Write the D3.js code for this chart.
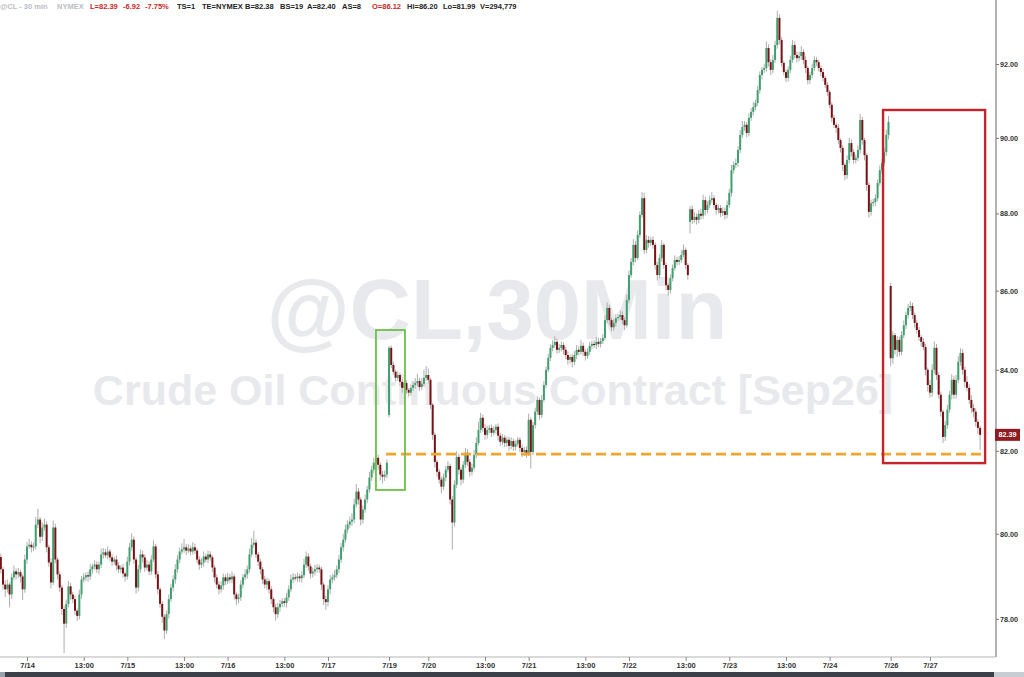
<!DOCTYPE html>
<html><head><meta charset="utf-8">
<script src="https://cdn.jsdelivr.net/npm/d3@7"></script>
<style>body{margin:0;background:#fff;overflow:hidden}svg text{font-family:"Liberation Sans",Arial,sans-serif}</style>
</head><body><svg id="c" width="1024" height="677"></svg>
<script>
// ---- data (30-min bars, CL continuous) ----
const closes = [
79.16,78.80,78.69,78.80,78.57,78.97,79.11,79.04,79.09,78.99,
78.69,79.39,79.70,79.74,79.68,79.70,80.22,80.34,79.93,80.15,
80.22,79.68,79.32,78.85,80.15,79.39,79.04,78.73,78.23,77.89,
78.35,78.76,78.57,78.46,78.19,78.07,78.57,78.92,78.97,79.02,
78.99,79.16,79.23,79.27,79.16,79.27,79.51,79.56,79.49,79.58,
79.44,79.34,79.39,79.25,79.16,79.20,79.06,78.99,79.34,79.68,
79.86,79.39,78.73,79.16,79.51,79.44,79.20,79.27,79.11,79.39,
79.70,79.04,78.69,78.35,78.05,77.73,78.11,78.46,78.73,78.92,
79.16,79.39,79.58,79.63,79.68,79.60,79.65,79.58,79.68,79.60,
79.39,79.27,79.32,79.46,79.39,79.51,79.44,79.20,78.97,78.80,
78.69,78.78,78.97,78.88,78.97,78.92,78.99,78.57,78.46,78.50,
78.80,78.97,79.04,79.16,79.51,79.74,79.79,79.51,79.34,79.16,
78.92,78.80,78.88,78.69,78.46,78.27,78.11,78.27,78.35,78.41,
78.37,78.50,78.69,78.92,78.97,78.95,78.99,78.95,79.02,79.27,
79.46,79.23,79.06,79.11,79.16,79.20,79.16,78.80,78.46,78.39,
78.69,78.92,78.97,79.02,79.16,79.39,79.68,79.86,80.10,80.22,
80.29,80.34,80.70,81.01,80.82,80.34,80.58,80.82,81.06,81.35,
81.54,81.71,81.83,81.66,81.42,81.37,81.42,81.71,84.55,84.12,
83.95,83.80,83.87,83.70,83.55,83.67,83.50,83.43,83.55,83.62,
83.67,83.72,83.57,83.65,83.80,83.87,83.75,83.13,82.39,81.73,
81.49,81.30,81.13,81.35,81.54,81.63,80.82,80.27,81.18,81.85,
81.54,81.30,81.66,81.95,81.73,81.49,81.59,81.90,82.19,82.51,
82.81,82.56,82.39,82.51,82.56,82.44,82.51,82.59,82.37,82.22,
82.32,82.19,82.27,82.12,82.24,82.10,82.17,82.27,82.07,81.97,
82.02,81.95,82.76,81.97,82.63,82.96,83.25,82.88,83.25,83.62,
84.00,84.30,84.55,84.62,84.70,84.50,84.55,84.62,84.50,84.37,
84.25,84.32,84.20,84.37,84.50,84.45,84.60,84.45,84.35,84.45,
84.60,84.65,84.62,84.70,84.65,84.72,84.80,85.25,85.56,85.25,
85.07,85.18,85.30,85.33,85.38,85.25,85.12,85.76,86.40,86.74,
87.18,86.84,87.44,87.96,88.40,87.05,87.31,87.23,87.31,87.18,
86.66,86.40,86.84,87.18,86.66,86.14,86.02,86.32,86.58,86.79,
86.74,86.79,86.92,87.05,86.66,86.40,88.11,87.83,87.91,87.83,
87.99,87.94,88.35,88.09,88.22,88.35,88.40,88.22,88.09,88.14,
88.01,88.06,87.96,88.22,88.54,89.14,89.28,89.33,89.68,90.08,
90.29,90.35,90.13,90.54,90.70,90.83,90.94,91.29,91.70,91.84,
91.89,92.44,92.05,91.84,92.11,92.52,93.27,92.66,92.03,91.78,
91.62,91.84,92.11,92.52,92.25,92.16,92.22,92.33,92.11,91.89,
91.56,91.70,91.89,92.11,92.05,91.89,91.78,91.62,91.43,91.24,
90.89,90.54,90.35,90.27,89.94,89.73,89.28,89.01,89.41,89.86,
89.62,89.41,89.46,89.68,90.48,89.94,89.54,88.75,88.04,88.27,
88.30,88.40,88.80,89.14,89.33,89.62,90.08,90.43,84.29,84.87,
84.50,84.75,84.45,84.87,85.12,85.38,85.56,85.61,85.38,85.18,
85.00,84.82,84.70,84.57,84.00,83.62,83.43,84.00,84.55,83.87,
83.38,82.96,82.34,82.63,83.01,83.38,83.75,83.38,83.75,84.20,
84.42,84.00,83.70,83.55,83.25,83.05,82.96,82.71,82.56,82.39];

// upper / lower wick beyond the body, in cents
const upWick = [
8,6,10,12,5,9,14,7,10,6, 5,12,10,14,8,9,18,26,6,12, 14,8,6,10,16,9,5,7,6,8, 10,12,8,6,9,5,11,8,10,7,
9,12,6,10,8,7,14,10,8,12, 6,9,7,10,8,6,9,5,12,10, 15,8,6,10,12,9,7,11,8,10, 14,6,8,5,7,6,9,11,8,10,
12,10,9,14,20,8,10,7,12,9, 6,8,10,12,7,9,8,5,6,7, 8,10,9,7,11,8,12,6,5,9, 10,8,12,9,14,16,28,8,6,7,
5,9,8,6,7,5,8,10,9,7, 8,11,9,12,10,8,9,7,10,14, 12,8,6,9,10,8,7,6,5,8, 9,10,8,12,9,11,10,14,12,10,
12,15,14,18,8,6,10,12,9,14, 10,12,15,8,6,9,10,8,5,6, 8,5,10,6,9,12,7,5,8,10, 12,18,8,14,20,22,16,5,4,6,
5,7,8,10,9,12,6,8,10,14, 8,6,10,12,9,7,10,12,14,20, 12,8,9,10,7,8,9,6,8,7, 9,6,8,7,9,6,8,7,6,8,
7,9,15,6,8,10,9,6,12,10, 8,10,9,12,14,8,10,9,7,8, 9,6,8,10,12,9,14,8,6,9, 10,8,9,12,10,8,10,12,14,8,
6,9,10,8,12,9,7,14,12,10, 15,10,12,9,16,14,12,10,8,9, 6,8,10,12,5,7,6,10,9,12, 8,10,12,14,6,5,8,10,12,9,
10,12,14,9,10,12,16,8,6,9, 8,10,9,12,10,14,9,12,10,14, 16,10,8,12,10,14,9,12,10,8, 12,18,10,8,14,12,20,10,8,6,
7,10,12,14,10,9,12,16,8,10, 6,9,12,10,8,6,7,9,6,8, 5,7,8,6,9,5,8,6,12,14, 10,8,9,12,16,8,6,5,7,9,
8,10,9,12,10,12,14,16,8,10, 6,9,8,10,12,9,10,12,8,6, 7,8,6,10,8,6,12,14,16,10, 6,8,5,10,12,9,14,10,12,14,
12,10,8,14,9,12,10,8,6,5];
const dnWick = [
10,12,18,8,30,10,6,12,9,14, 25,8,10,6,12,9,7,8,15,10, 8,12,10,14,6,9,12,10,14,68, 10,8,12,9,10,12,8,10,7,9,
12,8,10,7,9,12,8,10,6,9, 8,10,7,12,9,8,10,12,7,9, 8,10,14,9,8,12,10,7,9,8, 6,10,12,9,14,20,8,10,7,9,
10,8,9,7,8,10,6,9,7,8, 9,12,8,10,7,9,8,10,12,9, 12,8,10,9,7,8,9,12,14,10, 8,9,7,10,8,6,7,9,10,12,
10,9,12,10,11,12,15,9,10,8, 9,10,8,7,9,6,8,9,10,7, 8,10,12,9,10,8,9,12,14,18, 10,12,9,8,7,9,8,10,7,9,
8,10,9,7,12,14,10,8,9,7, 8,9,10,12,14,16,10,9,6,8, 7,9,8,10,12,8,9,10,7,8, 9,8,10,7,6,8,9,10,12,14,
12,10,16,8,9,7,12,65,10,8, 12,14,9,8,10,12,9,7,8,6, 8,10,12,9,8,10,7,9,12,10, 8,10,9,12,8,10,9,7,10,12,
9,12,8,40,7,9,8,12,8,6, 7,6,8,9,7,10,8,9,12,10, 12,9,14,8,10,9,7,10,12,8, 8,9,7,10,8,9,7,6,8,12,
10,8,9,7,8,10,12,6,8,7, 9,12,6,8,7,10,9,12,8,10, 12,14,8,9,10,12,14,9,8,7, 9,8,7,6,10,12,30,10,8,12,
9,10,8,14,9,8,7,10,12,9, 10,8,12,9,7,10,9,8,10,9, 8,10,12,9,8,10,9,8,10,12, 9,10,12,14,9,8,10,12,10,9,
12,10,9,8,10,12,9,10,12,14, 12,10,9,8,10,9,12,10,9,11, 10,12,9,14,10,12,16,14,10,9, 12,10,9,8,10,12,14,16,15,10,
9,10,8,7,9,8,10,12,20,14, 12,18,10,9,8,10,9,8,10,12, 9,10,12,8,14,16,12,10,9,12, 10,12,15,10,9,8,12,10,9,8,
10,12,14,9,10,12,14,12,15,37];

// opens that differ from the previous close (session gaps)
const gapOpens = [[0,79.45],[178,82.88],[316,87.78],[408,86.12]];

const yTicks = [78,80,82,84,86,88,90,92];
const xTickIdx = [12,38,58,84,104,130,150,178,196,222,242,268,288,314,334,360,380,408,426];
const xTickLabels = ["7/14","13:00","7/15","13:00","7/16","13:00","7/17","7/19","7/20","13:00",
                     "7/21","13:00","7/22","13:00","7/23","13:00","7/24","7/26","7/27"];
const lastPrice = 82.39;
const supportLevel = 81.92;
const greenBox = {i0:172, i1:185.3, hi:85.0, lo:81.05};
const redBox = {i0:404.5, i1:451.3, hi:90.75, lo:81.70};

const headerParts = [
  ["@CL - 30 min","#b9bdc4",0],["NYMEX","#b9bdc4",57],
  ["L=82.39","#c62828",90],["-6.92","#c62828",123],["-7.75%","#c62828",145],
  ["TS=1","#222",177],["TE=NYMEX","#222",202],["B=82.38","#222",245],["BS=19","#222",280],
  ["A=82.40","#222",307],["AS=8","#222",342],["O=86.12","#c62828",372],
  ["Hi=86.20","#222",407],["Lo=81.99","#222",443],["V=294,779","#222",480]];

// ---- build ----
const gapMap = new Map(gapOpens);
const bars = closes.map((c,i)=>{
  const o = gapMap.has(i) ? gapMap.get(i) : closes[i-1];
  return {i, o, c, h: Math.max(o,c)+upWick[i]/100, l: Math.min(o,c)-dnWick[i]/100};
});

const svg = d3.select("#c");
const W=1024,H=677, axisX=996, axisY=657;
const x = d3.scaleLinear().domain([0,449]).range([0.83,980.1]);
const y = d3.scaleLog().domain([78,92]).range([618.9,64]);

svg.append("rect").attr("width",W).attr("height",H).attr("fill","#fff");

// watermark
svg.append("text").attr("x",497).attr("y",339).attr("text-anchor","middle")
  .attr("font-size",85).attr("font-weight","bold").attr("fill","#e8e9ed").text("@CL,30Min");
svg.append("text").attr("x",493).attr("y",405).attr("text-anchor","middle")
  .attr("font-size",43).attr("font-weight","bold").attr("fill","#e8e9ed")
  .text("Crude Oil Continuous Contract [Sep26]");

// candles
const g = svg.append("g");
g.selectAll("line.w").data(bars).join("line").attr("class","w")
  .attr("x1",d=>x(d.i)).attr("x2",d=>x(d.i))
  .attr("y1",d=>y(d.h)).attr("y2",d=>y(d.l))
  .attr("stroke","#adadad").attr("stroke-width",1);
g.selectAll("rect.b").data(bars).join("rect").attr("class","b")
  .attr("x",d=>x(d.i)-1).attr("width",2)
  .attr("y",d=>y(Math.max(d.o,d.c)))
  .attr("height",d=>Math.max(1.2,y(Math.min(d.o,d.c))-y(Math.max(d.o,d.c))))
  .attr("fill",d=>d.c>=d.o?"#3f9f6d":"#7a1115");

// annotations
svg.append("line").attr("x1",x(178)-3).attr("x2",x(449)+1)
  .attr("y1",y(supportLevel)).attr("y2",y(supportLevel))
  .attr("stroke","#f0a52c").attr("stroke-width",2.6).attr("stroke-dasharray","10,5");
svg.append("rect").attr("x",x(greenBox.i0)).attr("y",y(greenBox.hi))
  .attr("width",x(greenBox.i1)-x(greenBox.i0)).attr("height",y(greenBox.lo)-y(greenBox.hi))
  .attr("fill","none").attr("stroke","#6cc04a").attr("stroke-width",1.8);
svg.append("rect").attr("x",x(redBox.i0)).attr("y",y(redBox.hi))
  .attr("width",x(redBox.i1)-x(redBox.i0)).attr("height",y(redBox.lo)-y(redBox.hi))
  .attr("fill","none").attr("stroke","#c5232a").attr("stroke-width",2.4);

// y axis (right)
const ya = svg.append("g").attr("transform",`translate(${axisX},0)`)
  .call(d3.axisRight(y).tickValues(yTicks).tickFormat(d3.format(".2f")).tickSize(3).tickPadding(1));
ya.select(".domain").attr("d",`M0,0V${axisY}`).attr("stroke","#9a9a9a").attr("stroke-width",1.5);
ya.selectAll(".tick line").attr("stroke","#777");
ya.selectAll(".tick text").attr("font-size",7.2).attr("font-weight","bold").attr("fill","#333")
  .attr("font-family","'Liberation Sans',Arial,sans-serif");

// last price tag
const ly = y(lastPrice);
svg.append("rect").attr("x",axisX-1).attr("y",ly-6).attr("width",25).attr("height",12)
  .attr("fill","#8e1c20");
svg.append("text").attr("x",axisX+11.5).attr("y",ly+2.6).attr("text-anchor","middle")
  .attr("font-size",7.2).attr("font-weight","bold").attr("fill","#fff").text(d3.format(".2f")(lastPrice));

// x axis (bottom)
const xa = svg.append("g").attr("transform",`translate(0,${axisY})`)
  .call(d3.axisBottom(x).tickValues(xTickIdx).tickFormat((d,i)=>xTickLabels[i]).tickSize(4).tickPadding(2));
xa.select(".domain").attr("d",`M0,0H${axisX}`).attr("stroke","#b5b5b5").attr("stroke-width",1);
xa.selectAll(".tick line").attr("stroke","#888");
xa.selectAll(".tick text").attr("font-size",7.5).attr("font-weight","bold").attr("fill","#333")
  .attr("font-family","'Liberation Sans',Arial,sans-serif");

// bottom strip
svg.append("rect").attr("x",0).attr("y",672).attr("width",W).attr("height",5).attr("fill","#3b4049");
svg.append("rect").attr("x",0).attr("y",672).attr("width",5).attr("height",5).attr("fill","#9aa3ad");
svg.append("rect").attr("x",994).attr("y",672).attr("width",30).attr("height",5).attr("fill","#c8cdd4");

// header
const hd = svg.append("g");
hd.selectAll("text").data(headerParts).join("text")
  .attr("x",d=>d[2]).attr("y",9).attr("font-size",7.5).attr("font-weight","bold")
  .attr("fill",d=>d[1]).text(d=>d[0]);
</script></body></html>
